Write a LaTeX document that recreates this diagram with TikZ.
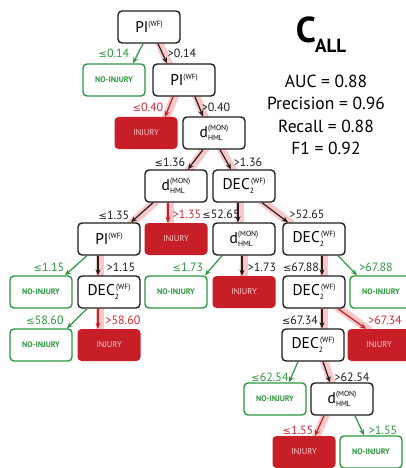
\documentclass[tikz,border=0pt]{standalone}
\usepackage{fontspec}
\setmainfont{PT Sans}
\newfontfamily\symf{DejaVu Sans}
\usetikzlibrary{calc,backgrounds,arrows.meta}
\definecolor{gr}{RGB}{45,152,62}
\definecolor{rd}{RGB}{200,30,40}
\definecolor{rdtxt}{RGB}{214,40,50}
\definecolor{pk}{RGB}{248,200,200}
\definecolor{injtxt}{RGB}{246,205,205}
\definecolor{bx}{RGB}{30,30,30}
\newcommand\LE{{\symf\fontsize{10}{10}\selectfont ≤}}
\newcommand\PIW{PI\raisebox{6pt}{\fontsize{7.5}{7.5}\selectfont (WF)}}
\newcommand\DHML{d\rlap{\raisebox{-3pt}{\fontsize{7.5}{7.5}\selectfont HML}}\raisebox{7pt}{\fontsize{7.5}{7.5}\selectfont (MON)}}
\newcommand\DECW{DEC\rlap{\raisebox{-4pt}{\fontsize{7.5}{7.5}\selectfont 2}}\raisebox{6pt}{\fontsize{7.5}{7.5}\selectfont \,(WF)}}
\newcommand\edge[5]{\draw[#1] ($(#2.south)+(#3,0)$) -- ($(#4.north)+(#5,0)$);}
\newcommand\band[4]{\draw[bandline] ($(#1.south)+(#2+1.5,0)$) -- ($(#3.north)+(#4+1.5,0)$);}
\begin{document}
\begin{tikzpicture}[x=1pt,y=-1pt,
  box/.style={draw=bx, line width=1.4pt, rounded corners=4pt, fill=white, minimum width=62pt, minimum height=32pt, inner sep=0pt, font=\fontsize{15.5}{15.5}\selectfont},
  nobox/.style={draw=gr, line width=1.4pt, rounded corners=4pt, fill=white, minimum width=62pt, minimum height=32pt, inner sep=0pt, text=gr, font=\bfseries\fontsize{8}{8}\selectfont},
  injbox/.style={fill=rd, rounded corners=4pt, minimum width=63pt, minimum height=32pt, inner sep=0pt, text=injtxt, font=\fontsize{8.5}{8.5}\selectfont},
  ar/.style={line width=1.2pt, -{Stealth[length=6pt,width=5pt]}},
  blk/.style={ar, draw=bx},
  grn/.style={ar, draw=gr, fill=gr},
  red/.style={ar, draw=rd, fill=rd},
  bandline/.style={line width=8pt, draw=pk, shorten <=-3pt, shorten >=-3pt},
  lbl/.style={inner sep=0pt, font=\fontsize{12}{12}\selectfont},
  met/.style={anchor=base, inner sep=0pt, font=\fontsize{17.5}{17.5}\selectfont}]
\useasboundingbox (0,0) rectangle (405,468);
% nodes
\node[box] (r0) at (149,27) {\PIW};
\node[nobox] (n1) at (114,80) {NO-INJURY};
\node[box] (p1) at (184,80) {\PIW};
\node[injbox] (i2) at (146,133) {INJURY};
\node[box] (d2) at (214,133) {\DHML};
\node[box] (d3) at (176,186) {\DHML};
\node[box] (c3) at (244,186) {\DECW};
\node[box] (p4) at (109,239) {\PIW};
\node[injbox] (i4) at (176,239) {INJURY};
\node[box] (d4) at (244,239) {\DHML};
\node[box] (c4) at (314,239) {\DECW};
\node[nobox] (n5a) at (41,292) {NO-INJURY};
\node[box] (c5a) at (109,292) {\DECW};
\node[nobox] (n5b) at (176,292) {NO-INJURY};
\node[injbox] (i5) at (244,292) {INJURY};
\node[box] (c5b) at (314,292) {\DECW};
\node[nobox] (n5c) at (381,292) {NO-INJURY};
\node[nobox] (n6a) at (41,345) {NO-INJURY};
\node[injbox] (i6a) at (109,345) {INJURY};
\node[box] (c6) at (313,345) {\DECW};
\node[injbox] (i6b) at (379,345) {INJURY};
\node[nobox] (n7) at (275,399) {NO-INJURY};
\node[box] (d7) at (342,399) {\DHML};
\node[injbox] (i8) at (304,452) {INJURY};
\node[nobox] (n8) at (371,452) {NO-INJURY};
% white page and highlight bands
\begin{pgfonlayer}{background}
\fill[white] (0,0) rectangle (405,468);
\band{r0}{9}{p1}{-17}
\band{p1}{-11}{i2}{19}
\band{p1}{11}{d2}{-11}
\band{d2}{-11}{d3}{12}
\band{d2}{6}{c3}{-13}
\band{d3}{-23}{p4}{22}
\band{d3}{-8}{i4}{-8}
\band{c3}{-6}{d4}{-6}
\band{c3}{18}{c4}{-26}
\band{p4}{-11}{c5a}{-11}
\band{d4}{-2}{i5}{-2}
\band{c4}{8}{c5b}{8}
\band{c5a}{-11}{i6a}{-11}
\band{c5b}{8}{c6}{9}
\band{c5b}{24}{i6b}{-13}
\band{c6}{10}{d7}{-12}
\band{d7}{-18}{i8}{11}
\end{pgfonlayer}
% connectors
\edge{grn}{r0}{-6}{n1}{19}
\edge{blk}{r0}{9}{p1}{-17}
\edge{red}{p1}{-11}{i2}{19}
\edge{blk}{p1}{11}{d2}{-11}
\edge{blk}{d2}{-11}{d3}{12}
\edge{blk}{d2}{6}{c3}{-13}
\edge{blk}{d3}{-23}{p4}{22}
\edge{red}{d3}{-8}{i4}{-8}
\edge{blk}{c3}{-6}{d4}{-6}
\edge{blk}{c3}{18}{c4}{-26}
\edge{grn}{p4}{-22}{n5a}{24}
\edge{blk}{p4}{-11}{c5a}{-11}
\edge{grn}{d4}{-22}{n5b}{29}
\edge{blk}{d4}{-2}{i5}{-2}
\edge{blk}{c4}{8}{c5b}{8}
\edge{grn}{c4}{24}{n5c}{-24}
\edge{grn}{c5a}{-22}{n6a}{26}
\edge{red}{c5a}{-11}{i6a}{-11}
\edge{blk}{c5b}{8}{c6}{9}
\edge{red}{c5b}{24}{i6b}{-13}
\edge{grn}{c6}{-15}{n7}{14}
\edge{blk}{c6}{10}{d7}{-12}
\edge{red}{d7}{-18}{i8}{11}
\edge{grn}{d7}{13}{n8}{-7}
% edge labels
\node[lbl, text=gr] (l1) at (114,53) {\LE0.14};
\node[lbl, text=bx] (l2) at (182,53) {>0.14};
\node[lbl, text=rdtxt] (l3) at (148,107) {\LE0.40};
\node[lbl, text=bx] (l4) at (216,107) {>0.40};
\node[lbl, text=bx] (l5) at (170,162) {\LE1.36};
\node[lbl, text=bx] (l6) at (248,162) {>1.36};
\node[lbl, text=bx] (l7) at (114,215) {\LE1.35};
\node[lbl, text=rdtxt] (l8) at (187,214) {>1.35};
\node[lbl, text=bx] (l9) at (221,214) {\LE52.65};
\node[lbl, text=bx] (l10) at (307,214) {>52.65};
\node[lbl, text=gr] (l11) at (49,267) {\LE1.15};
\node[lbl, text=bx] (l12) at (121,267) {>1.15};
\node[lbl, text=gr] (l13) at (188,267) {\LE1.73};
\node[lbl, text=bx] (l14) at (262,267) {>1.73};
\node[lbl, text=bx] (l15) at (301,267) {\LE67.88};
\node[lbl, text=gr] (l16) at (376,267) {>67.88};
\node[lbl, text=gr] (l17) at (45,320) {\LE58.60};
\node[lbl, text=rdtxt] (l18) at (123,320) {>58.60};
\node[lbl, text=bx] (l19) at (300,320) {\LE67.34};
\node[lbl, text=rdtxt] (l20) at (385,320) {>67.34};
\node[lbl, text=gr] (l21) at (270,377) {\LE62.54};
\node[lbl, text=bx] (l22) at (352,377) {>62.54};
\node[lbl, text=rdtxt] (l23) at (298,430) {\LE1.55};
\node[lbl, text=gr] (l24) at (383,430) {>1.55};
% title and metrics
\node[anchor=base, inner sep=0pt, font=\bfseries\fontsize{36}{36}\selectfont] (tc) at (306,43) {C};
\node[anchor=base west, inner sep=0pt, font=\bfseries\fontsize{19}{19}\selectfont] (tall) at (315,53) {ALL};
\node[met] (m1) at (326,88) {AUC = 0.88};
\node[met] (m2) at (326,110) {Precision = 0.96};
\node[met] (m3) at (326,132) {Recall = 0.88};
\node[met] (m4) at (326,154) {F1 = 0.92};
\end{tikzpicture}
\end{document}
